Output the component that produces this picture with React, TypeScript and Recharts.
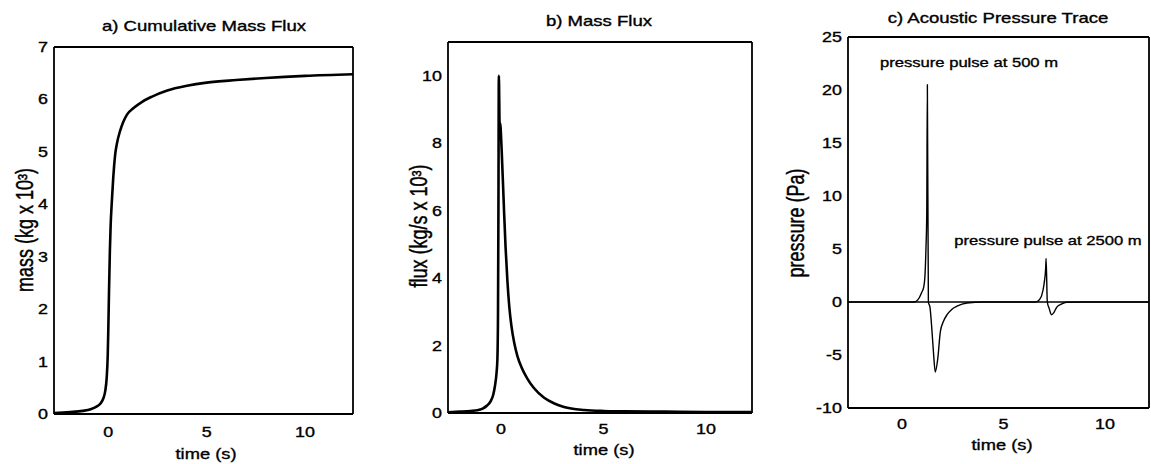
import React from 'react';
import { LineChart, Line, XAxis, YAxis, ReferenceLine } from 'recharts';

const FONT = '"Liberation Sans", Arial, Helvetica, sans-serif';
const SX = 1.28;
const TXT_STROKE = 0.35;

// a) cumulative mass (kg x 10^3) vs time (s)
const massTime = [-2.76, -2.3, -1.8, -1.3, -0.9, -0.6, -0.4, -0.25, -0.15, -0.08, -0.03, 0, 0.04, 0.08, 0.12, 0.18, 0.25, 0.3, 0.36, 0.45, 0.6, 0.75, 0.95, 1.3, 1.7, 2.2, 3, 4, 5, 6.5, 8, 10, 12.44];
const massValues = [0.02, 0.03, 0.04, 0.06, 0.09, 0.14, 0.2, 0.3, 0.45, 0.7, 1.1, 1.6, 2.4, 3.1, 3.6, 4.05, 4.5, 4.75, 4.98, 5.18, 5.4, 5.56, 5.71, 5.84, 5.95, 6.05, 6.17, 6.26, 6.32, 6.37, 6.41, 6.45, 6.48];
const massYTicks = [0, 1, 2, 3, 4, 5, 6, 7];

// b) mass flux (kg/s x 10^3) vs time (s)
const fluxTime = [-2.59, -2.0, -1.5, -1.16, -0.9, -0.67, -0.5, -0.38, -0.3, -0.22, -0.18, -0.15, -0.13, -0.11, -0.07, -0.04, -0.01, 0.08, 0.15, 0.22, 0.31, 0.4, 0.5, 0.65, 0.8, 1.0, 1.28, 1.6, 2.1, 2.6, 3.07, 4.05, 5, 6, 8, 10, 12.24];
const fluxValues = [0.02, 0.04, 0.06, 0.08, 0.13, 0.23, 0.36, 0.55, 0.8, 1.2, 1.6, 3.0, 6.0, 10.0, 8.5, 8.6, 8.3, 7.0, 5.9, 4.9, 3.9, 3.15, 2.6, 2.05, 1.68, 1.35, 1.02, 0.74, 0.45, 0.28, 0.18, 0.09, 0.06, 0.05, 0.04, 0.03, 0.03];
const fluxYTicks = [0, 2, 4, 6, 8, 10];

// c) acoustic pressure (Pa) vs time (s)
const pressureTime = [-2.66, 0.5, 0.64, 0.72, 0.85, 0.97, 1.07, 1.13, 1.18, 1.22, 1.25, 1.3, 1.38, 1.48, 1.56, 1.64, 1.76, 1.89, 2.05, 2.22, 2.45, 2.71, 3.2, 4.0, 6.5, 6.63, 6.78, 6.88, 7.0, 7.08, 7.1, 7.16, 7.25, 7.37, 7.48, 7.62, 7.85, 8.11, 9, 12.17];
const pressureValues = [0, 0, 0.02, 0.1, 0.4, 0.9, 1.4, 2.4, 5.0, 8.3, 20.5, 0, -0.5, -2.8, -5.0, -6.6, -5.4, -2.8, -1.8, -1.2, -0.7, -0.4, -0.1, 0, 0, 0.02, 0.25, 0.6, 1.7, 3.2, 4.1, 0, -0.6, -1.2, -1.0, -0.5, -0.2, -0.03, 0, 0];
const pressureYTicks = [-10, -5, 0, 5, 10, 15, 20, 25];

const timeTicks = [0, 5, 10];

const XTick = (props: any) => {
  const { x, y, payload } = props;
  return (
    <text transform={`translate(${x},${y}) scale(${SX},1)`} textAnchor="middle" dy="0.71em" fontSize={14} fontFamily={FONT}
      fill="#000" stroke="#000" strokeWidth={TXT_STROKE}>
      {payload.value}
    </text>
  );
};

const YTick = (props: any) => {
  const { x, y, payload } = props;
  return (
    <text transform={`translate(${x},${y}) scale(${SX},1)`} textAnchor="end" dy="0.355em" fontSize={14} fontFamily={FONT}
      fill="#000" stroke="#000" strokeWidth={TXT_STROKE}>
      {payload.value}
    </text>
  );
};

type PanelProps = {
  left: number;
  width: number;
  plotLeft: number;
  plotRight: number;
  plotTop: number;
  plotBottom: number;
  xDomain: [number, number];
  yDomain: [number, number];
  yTicks: number[];
  times: number[];
  values: number[];
  strokeWidth: number;
  xLabelGap: number;
  zeroLine?: boolean;
};

const Panel = (p: PanelProps) => {
  const data = p.times.map((t, i) => ({ t, v: p.values[i] }));
  const axisH = 30;
  const frame = { stroke: '#000', strokeWidth: 1.8 };
  return (
    <div style={{ position: 'absolute', left: p.left, top: 0 }}>
      <LineChart
        width={p.width}
        height={464}
        data={data}
        margin={{ top: p.plotTop, right: p.left + p.width - p.plotRight, bottom: 464 - p.plotBottom - axisH, left: 0 }}
      >
        <XAxis dataKey="t" type="number" domain={p.xDomain} allowDataOverflow ticks={timeTicks} height={axisH}
          tickLine={false} tickSize={0} tickMargin={p.xLabelGap} axisLine={frame} tick={<XTick />} interval={0} />
        <XAxis xAxisId="xb" dataKey="t" type="number" domain={p.xDomain} allowDataOverflow ticks={timeTicks} mirror
          tick={false} tickSize={4} axisLine={false} tickLine={{ stroke: '#000', strokeWidth: 1.2 }} interval={0} />
        <XAxis xAxisId="xt" orientation="top" dataKey="t" type="number" domain={p.xDomain} allowDataOverflow ticks={timeTicks} mirror
          tick={false} tickSize={4} axisLine={frame} tickLine={{ stroke: '#000', strokeWidth: 1.2 }} interval={0} />
        <YAxis dataKey="v" type="number" domain={p.yDomain} allowDataOverflow ticks={p.yTicks} width={p.plotLeft - p.left}
          tickLine={false} tickSize={0} tickMargin={6} axisLine={frame} tick={<YTick />} interval={0} />
        <YAxis yAxisId="yl" dataKey="v" type="number" domain={p.yDomain} allowDataOverflow ticks={p.yTicks} mirror
          tick={false} tickSize={4} axisLine={false} tickLine={{ stroke: '#000', strokeWidth: 1.2 }} interval={0} />
        <YAxis yAxisId="yr" orientation="right" dataKey="v" type="number" domain={p.yDomain} allowDataOverflow ticks={p.yTicks} mirror
          tick={false} tickSize={4} axisLine={frame} tickLine={{ stroke: '#000', strokeWidth: 1.2 }} interval={0} />
        {p.zeroLine ? <ReferenceLine y={0} stroke="#000" strokeWidth={1.3} /> : null}
        <Line dataKey="v" type="monotone" stroke="#000" strokeWidth={p.strokeWidth} dot={false} isAnimationActive={false} />
      </LineChart>
    </div>
  );
};

const HText = ({ x, y, size, children, scale = SX }: any) => (
  <text transform={`translate(${x},${y}) scale(${scale},1)`} textAnchor="middle" fontSize={size} fontFamily={FONT}
    fill="#000" stroke="#000" strokeWidth={TXT_STROKE}>
    {children}
  </text>
);

const VText = ({ x, y, size, children }: any) => (
  <text transform={`translate(${x},${y}) rotate(-90) scale(1,${SX})`} textAnchor="middle" fontSize={size} fontFamily={FONT}
    fill="#000" stroke="#000" strokeWidth={TXT_STROKE}>
    {children}
  </text>
);

export default function App() {
  return (
    <div style={{ position: 'absolute', left: 0, top: 0, width: 1151, height: 464, background: '#fff', overflow: 'hidden' }}>
      <Panel left={0} width={370} plotLeft={54} plotRight={353} plotTop={47} plotBottom={414}
        xDomain={[-2.76, 12.44]} yDomain={[0, 7]} yTicks={massYTicks} times={massTime} values={massValues}
        strokeWidth={2.6} xLabelGap={13} />
      <Panel left={380} width={385} plotLeft={448} plotRight={752} plotTop={42} plotBottom={413}
        xDomain={[-2.59, 12.24]} yDomain={[0, 11]} yTicks={fluxYTicks} times={fluxTime} values={fluxValues}
        strokeWidth={2.6} xLabelGap={11} />
      <Panel left={770} width={381} plotLeft={848} plotRight={1149} plotTop={37} plotBottom={408}
        xDomain={[-2.66, 12.17]} yDomain={[-10, 25]} yTicks={pressureYTicks} times={pressureTime} values={pressureValues}
        strokeWidth={1.4} xLabelGap={11} zeroLine />
      <svg width={1151} height={464} style={{ position: 'absolute', left: 0, top: 0, pointerEvents: 'none' }}>
        <HText x={204} y={31} size={14.5}>a) Cumulative Mass Flux</HText>
        <HText x={599} y={26} size={14.5}>b) Mass Flux</HText>
        <HText x={998} y={23} size={14.5}>c) Acoustic Pressure Trace</HText>
        <HText x={206} y={459} size={15} scale={1.22}>time (s)</HText>
        <HText x={604} y={455} size={15} scale={1.22}>time (s)</HText>
        <HText x={1002} y={450} size={15} scale={1.22}>time (s)</HText>
        <HText x={969} y={67} size={13.5} scale={1.23}>pressure pulse at 500 m</HText>
        <HText x={1048} y={245} size={13.5} scale={1.23}>pressure pulse at 2500 m</HText>
        <VText x={33} y={230} size={18}>mass (kg x 10³)</VText>
        <VText x={427} y={226} size={18}>flux (kg/s x 10³)</VText>
        <VText x={804} y={223} size={18}>pressure (Pa)</VText>
      </svg>
    </div>
  );
}
